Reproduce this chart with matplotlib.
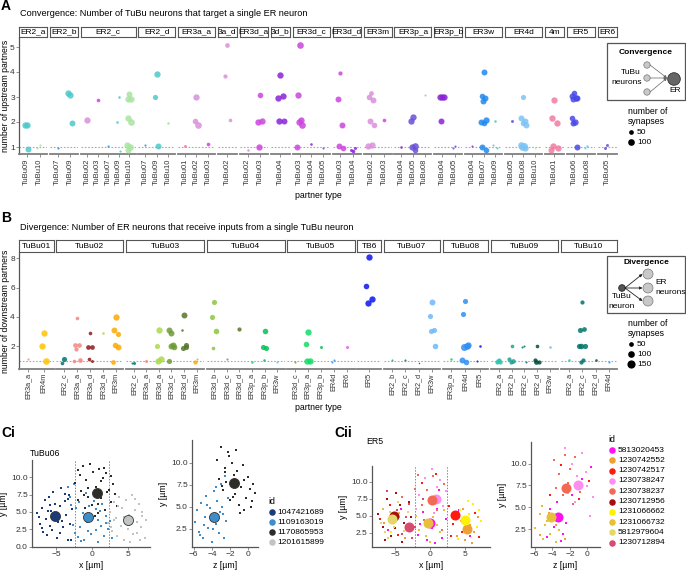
import matplotlib.pyplot as plt

plt.rcParams['font.family'] = ['Liberation Sans', 'DejaVu Sans']

### ---------------- data ----------------
# panel A : convergence (facet = ER type, partner = TuBu type)
conv_strips = ["ER2_a", "ER2_b", "ER2_c", "ER2_d", "ER3a_a", "ER3a_d", "ER3d_a", "ER3d_b", "ER3d_c",
               "ER3d_d", "ER3m", "ER3p_a", "ER3p_b", "ER3w", "ER4d", "ER4m", "ER5", "ER6"]
conv_strip_text = ["ER2_a", "ER2_b", "ER2_c", "ER2_d", "ER3a_a", "3a_d", "ER3d_a", "3d_b", "ER3d_c",
                   "ER3d_d", "ER3m", "ER3p_a", "ER3p_b", "ER3w", "ER4d", "4m", "ER5", "ER6"]
conv_partners = [["TuBu09", "TuBu10"], ["TuBu07", "TuBu09"],
                 ["TuBu02", "TuBu03", "TuBu07", "TuBu09", "TuBu10"], ["TuBu07", "TuBu09", "TuBu10"],
                 ["TuBu01", "TuBu02", "TuBu03"], ["TuBu02"], ["TuBu02", "TuBu03"], ["TuBu04"],
                 ["TuBu03", "TuBu04", "TuBu05"], ["TuBu03", "TuBu04"], ["TuBu02", "TuBu03"],
                 ["TuBu04", "TuBu05", "TuBu08"], ["TuBu04", "TuBu05"], ["TuBu04", "TuBu07", "TuBu09"],
                 ["TuBu05", "TuBu08", "TuBu10"], ["TuBu01"], ["TuBu06", "TuBu08"], ["TuBu05"]]
# (partner, number of upstream partners, number of synapses)
conv_points = {
    "ER2_a": [("TuBu09", 1.87, 90), ("TuBu09", 1.87, 90), ("TuBu09", 0.93, 80),
              ("TuBu10", 1.1, 10), ("TuBu10", 0.95, 10)],
    "ER2_b": [("TuBu07", 0.95, 10), ("TuBu09", 3.1, 90), ("TuBu09", 3.15, 90), ("TuBu09", 1.97, 80)],
    "ER2_c": [("TuBu02", 2.1, 90), ("TuBu03", 2.88, 30), ("TuBu07", 1.05, 10),
              ("TuBu09", 3.0, 15), ("TuBu09", 2.02, 15), ("TuBu09", 0.85, 10),
              ("TuBu10", 3.12, 80), ("TuBu10", 2.93, 90), ("TuBu10", 2.93, 90), ("TuBu10", 2.15, 90),
              ("TuBu10", 2.0, 100), ("TuBu10", 1.1, 90), ("TuBu10", 1.0, 100), ("TuBu10", 0.9, 80)],
    "ER2_d": [("TuBu07", 1.08, 10), ("TuBu09", 3.92, 90), ("TuBu09", 3.02, 60), ("TuBu09", 1.05, 80),
              ("TuBu10", 1.97, 15)],
    "ER3a_a": [("TuBu01", 1.05, 20), ("TuBu02", 3.02, 90), ("TuBu02", 2.05, 70), ("TuBu02", 1.88, 100),
               ("TuBu03", 1.12, 30)],
    "ER3a_d": [("TuBu02", 5.1, 50), ("TuBu02", 3.85, 40), ("TuBu02", 2.1, 30)],
    "ER3d_a": [("TuBu02", 0.9, 15), ("TuBu03", 3.1, 70), ("TuBu03", 2.0, 90), ("TuBu03", 2.05, 90),
               ("TuBu03", 1.0, 90)],
    "ER3d_b": [("TuBu04", 3.87, 90), ("TuBu04", 2.95, 90), ("TuBu04", 3.03, 90), ("TuBu04", 2.03, 90),
               ("TuBu04", 2.05, 80)],
    "ER3d_c": [("TuBu03", 5.1, 100), ("TuBu03", 3.07, 90), ("TuBu03", 2.1, 90), ("TuBu03", 2.0, 90),
               ("TuBu03", 1.9, 100), ("TuBu03", 1.0, 80), ("TuBu04", 1.12, 15), ("TuBu05", 0.98, 10)],
    "ER3d_d": [("TuBu03", 3.95, 40), ("TuBu03", 2.93, 80), ("TuBu03", 1.9, 80), ("TuBu03", 1.03, 80),
               ("TuBu03", 0.95, 70), ("TuBu04", 0.85, 30), ("TuBu04", 0.9, 20), ("TuBu04", 0.95, 20)],
    "ER3m": [("TuBu02", 3.15, 50), ("TuBu02", 3.0, 70), ("TuBu02", 2.9, 80), ("TuBu02", 2.05, 80),
             ("TuBu02", 1.9, 70), ("TuBu02", 1.05, 90), ("TuBu02", 1.1, 90), ("TuBu03", 2.1, 30)],
    "ER3p_a": [("TuBu04", 1.0, 15), ("TuBu05", 2.2, 90), ("TuBu05", 2.05, 90), ("TuBu05", 1.05, 100),
               ("TuBu05", 1.0, 90), ("TuBu05", 0.9, 70), ("TuBu08", 3.1, 10)],
    "ER3p_b": [("TuBu04", 3.0, 90), ("TuBu04", 3.0, 90), ("TuBu04", 3.0, 90), ("TuBu04", 2.05, 80),
               ("TuBu05", 1.05, 10), ("TuBu05", 0.95, 10)],
    "ER3w": [("TuBu04", 1.03, 10), ("TuBu07", 4.0, 80), ("TuBu07", 3.05, 70), ("TuBu07", 2.95, 80),
             ("TuBu07", 2.85, 80), ("TuBu07", 2.1, 90), ("TuBu07", 2.0, 80), ("TuBu07", 1.95, 70),
             ("TuBu07", 1.0, 80), ("TuBu07", 0.9, 70), ("TuBu09", 2.03, 15), ("TuBu09", 1.1, 10),
             ("TuBu09", 0.95, 10)],
    "ER4d": [("TuBu05", 2.05, 20), ("TuBu08", 3.0, 60), ("TuBu08", 2.15, 80), ("TuBu08", 2.05, 80),
             ("TuBu08", 1.95, 70), ("TuBu08", 1.9, 80), ("TuBu08", 1.1, 100), ("TuBu08", 1.05, 110),
             ("TuBu08", 1.0, 100), ("TuBu08", 0.95, 90), ("TuBu10", 0.95, 5)],
    "ER4m": [("TuBu01", 2.9, 90), ("TuBu01", 2.15, 90), ("TuBu01", 1.95, 90), ("TuBu01", 1.05, 90),
             ("TuBu01", 0.98, 90), ("TuBu01", 0.9, 80)],
    "ER5": [("TuBu06", 3.15, 70), ("TuBu06", 3.05, 80), ("TuBu06", 2.95, 90), ("TuBu06", 2.93, 80),
            ("TuBu06", 2.95, 80), ("TuBu06", 2.15, 70), ("TuBu06", 2.0, 90), ("TuBu06", 1.95, 80),
            ("TuBu06", 1.02, 80), ("TuBu08", 1.05, 15), ("TuBu08", 0.95, 10)],
    "ER6": [("TuBu05", 1.1, 20), ("TuBu05", 0.95, 20)],
}

# panel B : divergence (facet = TuBu type, partner = ER type)
div_strips = ["TuBu01", "TuBu02", "TuBu03", "TuBu04", "TuBu05", "TB6", "TuBu07", "TuBu08", "TuBu09", "TuBu10"]
div_partners = [["ER3a_a", "ER4m"], ["ER2_c", "ER3a_a", "ER3a_d", "ER3d_a", "ER3m"],
                ["ER2_c", "ER3a_a", "ER3d_a", "ER3d_c", "ER3d_d", "ER3m"],
                ["ER3d_b", "ER3d_c", "ER3d_d", "ER3p_a", "ER3p_b", "ER3w"],
                ["ER3d_c", "ER3p_a", "ER3p_b", "ER4d", "ER6"], ["ER5"],
                ["ER2_b", "ER2_c", "ER2_d", "ER3w"], ["ER3p_a", "ER4d", "ER5"],
                ["ER2_a", "ER2_b", "ER2_c", "ER2_d", "ER3w"], ["ER2_a", "ER2_c", "ER2_d", "ER4d"]]
div_points = {
    "TuBu01": [("ER3a_a", 1.1, 10), ("ER4m", 2.93, 90), ("ER4m", 2.0, 90), ("ER4m", 1.02, 100)],
    "TuBu02": [("ER2_c", 1.15, 60), ("ER2_c", 0.88, 30), ("ER3a_a", 3.9, 30), ("ER3a_a", 2.12, 50),
               ("ER3a_a", 2.1, 50), ("ER3a_a", 1.82, 40), ("ER3a_a", 1.05, 50), ("ER3a_a", 1.0, 30),
               ("ER3a_d", 2.9, 30), ("ER3a_d", 1.97, 50), ("ER3a_d", 1.92, 50), ("ER3a_d", 1.1, 30),
               ("ER3a_d", 1.0, 20), ("ER3d_a", 2.93, 15), ("ER3m", 4.0, 90), ("ER3m", 3.12, 80),
               ("ER3m", 2.86, 60), ("ER3m", 2.12, 70), ("ER3m", 1.93, 80), ("ER3m", 0.95, 50)],
    "TuBu03": [("ER2_c", 0.88, 20), ("ER2_c", 0.87, 10), ("ER3a_a", 1.0, 20), ("ER3d_a", 3.1, 90),
               ("ER3d_a", 2.05, 60), ("ER3d_a", 1.15, 90), ("ER3d_a", 1.02, 90), ("ER3d_c", 2.93, 80),
               ("ER3d_c", 3.1, 80), ("ER3d_c", 2.07, 80), ("ER3d_c", 2.0, 80), ("ER3d_c", 1.95, 70),
               ("ER3d_c", 0.98, 60), ("ER3d_d", 4.1, 80), ("ER3d_d", 3.1, 15), ("ER3d_d", 2.1, 60),
               ("ER3d_d", 1.9, 60), ("ER3d_d", 1.95, 60), ("ER3m", 1.1, 10), ("ER3m", 0.95, 40)],
    "TuBu04": [("ER3d_b", 5.0, 60), ("ER3d_b", 4.0, 60), ("ER3d_b", 3.03, 70), ("ER3d_b", 1.9, 30),
               ("ER3d_c", 1.15, 10), ("ER3d_d", 3.15, 40), ("ER3p_a", 0.92, 15), ("ER3p_b", 3.07, 70),
               ("ER3p_b", 1.97, 60), ("ER3p_b", 1.87, 60), ("ER3p_b", 1.03, 15), ("ER3w", 0.95, 10)],
    "TuBu05": [("ER3d_c", 0.9, 10), ("ER3p_a", 3.0, 90), ("ER3p_a", 2.15, 70), ("ER3p_a", 1.0, 90),
               ("ER3p_a", 0.98, 90), ("ER3p_b", 1.98, 20), ("ER4d", 1.05, 10), ("ER4d", 0.92, 10),
               ("ER6", 1.95, 20)],
    "TB6": [("ER5", 8.1, 90), ("ER5", 6.1, 70), ("ER5", 5.2, 90), ("ER5", 4.95, 90)],
    "TuBu07": [("ER2_b", 1.05, 10), ("ER2_c", 1.03, 10), ("ER2_d", 0.88, 5), ("ER3w", 5.0, 80),
               ("ER3w", 4.07, 60), ("ER3w", 3.1, 60), ("ER3w", 3.05, 60), ("ER3w", 2.0, 70)],
    "TuBu08": [("ER3p_a", 1.1, 15), ("ER4d", 5.1, 60), ("ER4d", 4.2, 60), ("ER4d", 2.05, 100),
               ("ER4d", 1.95, 110), ("ER4d", 2.1, 90), ("ER4d", 1.03, 80), ("ER4d", 0.9, 70),
               ("ER5", 2.0, 15), ("ER5", 1.0, 10)],
    "TuBu09": [("ER2_a", 1.05, 40), ("ER2_a", 0.92, 40), ("ER2_a", 0.95, 40), ("ER2_a", 1.0, 50),
               ("ER2_b", 2.03, 30), ("ER2_b", 1.1, 40), ("ER2_b", 1.0, 50), ("ER2_b", 0.95, 40),
               ("ER2_c", 2.0, 10), ("ER2_c", 1.93, 10), ("ER2_c", 0.95, 10), ("ER2_d", 2.03, 30),
               ("ER2_d", 1.08, 40), ("ER2_d", 0.93, 40), ("ER2_d", 0.9, 50), ("ER3w", 1.95, 15)],
    "TuBu10": [("ER2_a", 1.05, 15), ("ER2_c", 5.0, 40), ("ER2_c", 3.1, 60), ("ER2_c", 3.15, 50),
               ("ER2_c", 2.05, 70), ("ER2_c", 2.02, 60), ("ER2_c", 2.05, 60), ("ER2_c", 1.05, 40),
               ("ER2_c", 0.95, 40), ("ER2_d", 1.03, 15), ("ER4d", 0.95, 10)],
}

partner_colors = {
    "TuBu01": "#F27BA0", "TuBu02": "#D98FDB", "TuBu03": "#CC44DD", "TuBu04": "#8A22D8",
    "TuBu05": "#6A4FD8", "TuBu06": "#4848E8", "TuBu07": "#1E88F0", "TuBu08": "#7CC4F4",
    "TuBu09": "#4CC8CC", "TuBu10": "#A8E4A0",
    "ER2_a": "#2EC4B0", "ER2_b": "#1FA08E", "ER2_c": "#00756B", "ER2_d": "#004A3A",
    "ER3a_a": "#F4867F", "ER3a_d": "#8E1B1B", "ER3d_a": "#A9DA4A", "ER3d_b": "#8CC63F",
    "ER3d_c": "#6D9A35", "ER3d_d": "#56762A", "ER3m": "#FFAA00", "ER3p_a": "#10DD66",
    "ER3p_b": "#00C255", "ER3w": "#6EB8F8", "ER4d": "#2F8FF5", "ER4m": "#FFC400",
    "ER5": "#0A14F0", "ER6": "#E055F0",
}

# panel Ci : TuBu06 neurons
ci_ids = ["1047421689", "1109163019", "1170865953", "1201615899"]
ci_colors = ["#1B3A78", "#3E8CC8", "#2C2C28", "#C0C4C4"]
ci_xy_x = [
    [-7.6, -7.2, -7.0, -6.8, -6.5, -6.4, -6.2, -6.0, -5.9, -5.7, -5.5, -5.4, -5.1, -4.9, -4.7, -4.5, -4.3, -4.0,
     -3.8, -3.6, -3.4, -3.2, -3.0, -2.8, -6.9, -6.1, -5.3, -4.4, -3.7, -2.9, -7.4, -5.8, -4.8, -4.1, -3.3],
    [-3.4, -3.0, -2.7, -2.5, -2.2, -2.0, -1.8, -1.6, -1.3, -1.1, -0.9, -0.7, -0.4, -0.2, 0.1, 0.3, 0.6, 0.8,
     1.1, 1.3, 1.6, 1.9, 2.2, 2.5, 2.8, -2.9, -1.5, -0.6, 0.5, 1.4, 2.0, -2.3, -1.0, 0.9],
    [-2.3, -2.0, -1.7, -1.5, -1.2, -1.0, -0.8, -0.5, -0.3, 0.0, 0.2, 0.5, 0.8, 1.0, 1.3, 1.5, 1.8, 2.0,
     2.3, 2.6, 2.9, 3.2, 3.4, -1.9, -0.6, 0.4, 1.2, 2.1, -1.1, 0.9, 1.7, 2.7],
    [2.2, 2.5, 2.8, 3.0, 3.3, 3.5, 3.8, 4.0, 4.2, 4.5, 4.7, 5.0, 5.2, 5.5, 5.7, 6.0, 6.2, 6.5,
     6.8, 7.0, 7.3, 7.5, 2.6, 3.6, 4.4, 5.3, 6.3, 6.9, 4.8, 5.9, 3.1, 6.6],
]
ci_xy_y = [
    [4.9, 3.2, 5.6, 2.1, 6.8, 4.0, 1.7, 7.2, 3.0, 5.2, 2.4, 7.9, 6.1, 1.3, 3.6, 5.8, 8.4, 2.8,
     6.6, 4.5, 1.0, 7.4, 3.3, 5.5, 2.7, 5.1, 3.9, 2.0, 7.6, 0.9, 4.3, 6.0, 4.8, 3.7, 6.9],
    [8.6, 7.2, 3.1, 9.0, 5.6, 1.4, 6.4, 2.8, 4.9, 0.9, 7.8, 3.5, 5.9, 1.8, 4.2, 6.6, 2.4, 0.7,
     5.1, 3.0, 1.5, 4.4, 2.6, 3.7, 1.2, 6.0, 0.8, 2.2, 5.5, 6.2, 3.4, 2.0, 4.6, 3.9],
    [9.2, 6.8, 10.4, 8.0, 11.6, 5.6, 9.6, 7.2, 11.9, 6.0, 10.8, 8.6, 4.8, 11.2, 7.0, 9.9, 5.3, 10.6,
     8.2, 6.5, 9.0, 7.6, 5.8, 11.0, 8.4, 4.4, 9.4, 7.9, 7.4, 6.2, 11.3, 10.2],
    [3.4, 5.0, 2.2, 6.5, 4.1, 1.5, 7.2, 3.0, 5.6, 0.9, 6.8, 2.5, 4.6, 7.4, 1.8, 5.3, 3.6, 6.1,
     2.9, 4.4, 1.2, 3.8, 2.9, 5.9, 4.3, 0.6, 2.0, 5.0, 3.2, 6.9, 3.9, 1.0],
]
ci_xy_center = [(-5.2, 4.4), (-0.5, 4.3), (0.7, 7.8), (5.0, 3.8)]
ci_zy_z = [[],
           [-5.9, -5.6, -5.4, -5.2, -5.0, -4.8, -4.6, -4.4, -4.2, -4.0, -3.8, -3.6, -3.4, -3.2, -3.0, -2.8,
            -2.6, -2.4, -2.2, -5.3, -4.5, -3.9, -3.1, -2.7, -4.9, -3.5, -4.1, -2.9],
           [-3.4, -3.2, -3.0, -2.8, -2.6, -2.4, -2.2, -2.0, -1.8, -1.6, -1.4, -1.2, -1.0, -0.8, -0.6, -0.4,
            -0.2, 0.0, 0.2, 0.4, 0.6, 0.8, -2.9, -2.1, -1.3, -0.5, 0.3, -1.7, -0.9, -2.5],
           []]
ci_zy_y = [[],
           [3.2, 4.6, 2.1, 5.4, 1.4, 3.8, 6.2, 2.6, 4.8, 1.0, 6.8, 3.0, 5.6, 2.0, 7.6, 4.2, 8.5, 3.4, 6.0,
            1.8, 5.2, 2.4, 4.4, 1.4, 2.9, 7.2, 3.5, 5.0],
           [10.3, 8.2, 11.8, 6.9, 9.4, 7.8, 11.2, 5.8, 10.0, 8.6, 6.4, 9.1, 5.2, 7.2, 9.8, 4.6, 6.0, 8.4,
            7.0, 5.6, 7.6, 6.6, 7.4, 10.8, 11.5, 8.0, 5.0, 6.1, 4.3, 9.0],
           []]
ci_zy_center = [None, (-3.8, 3.8), (-1.5, 7.7), None]

# panel Cii : ER5 neurons
cii_ids = ["5813020453", "1230742552", "1230742517", "1230738247", "1230738237",
           "1230712956", "1231066662", "1231066732", "5812979604", "1230712894"]
cii_colors = ["#FF10F0", "#EFA035", "#FF1A10", "#FF8CF2", "#F26A55",
              "#A50F0F", "#FFF200", "#E8BE3A", "#E2D86A", "#D84A70"]
cii_xy_x = [
    [-1.8, -1.0, -0.4, 0.3, 0.9, 1.6, 2.2, -1.4, 0.6, 1.2, -6.0, -4.2, 5.6, 4.1],
    [3.8, 4.4, 5.0, 5.6, 6.2, 6.8, 4.7, 5.9, -3.6, -6.6],
    [2.6, 3.2, 3.9, 4.5, 6.4, 7.0, -5.8, -4.6, -1.2, 0.8, -7.2, 2.9],
    [-1.6, -0.8, 0.2, 1.0, 1.8, 2.3, -0.2, 1.4, -2.0, 0.5],
    [-2.2, -1.2, -0.5, 0.4, 1.2, 2.0, -1.8, 0.9, -0.9, 1.7, -4.0],
    [-7.4, -6.8, -6.2, -5.6, -4.9, -4.3, -3.7, -3.0, -6.5, -5.0, -4.0, -2.7, 4.8],
    [3.4, 4.2, 4.9, 5.5, 6.1, 6.6, 7.2, 3.9, 5.3, 6.9, -5.6],
    [-1.6, -0.6, 0.4, 1.4, 2.0, -2.0, 0.0, 1.0, -6.8, -4.4],
    [-7.0, -6.4, -5.8, -5.2, -4.6, -3.8, -3.2, -6.0, -4.4, -2.8],
    [-4.0, -3.4, -2.6, -3.0, -4.8, -2.2, -6.2, -1.0],
]
cii_xy_y = [
    [2.2, 5.6, 1.5, 3.2, 6.0, 1.8, 4.6, 3.8, 1.0, 8.8, 3.0, 6.0, 2.0, 5.8],
    [2.0, 4.2, 1.4, 3.6, 2.6, 4.8, 6.0, 1.0, 1.8, 4.0],
    [6.4, 3.8, 5.6, 2.6, 5.4, 1.9, 6.6, 2.2, 9.8, 11.2, 4.6, 2.0],
    [8.0, 10.6, 11.8, 9.2, 6.4, 8.6, 7.0, 10.2, 6.0, 5.4],
    [9.0, 6.6, 8.8, 10.8, 7.8, 9.6, 11.0, 5.8, 4.4, 3.0, 7.8],
    [5.2, 3.4, 7.4, 2.0, 8.4, 6.6, 4.0, 7.0, 1.4, 3.2, 1.2, 4.8, 3.0],
    [4.6, 5.8, 3.0, 5.2, 6.8, 3.4, 4.2, 1.6, 7.2, 5.8, 2.6],
    [3.0, 2.0, 4.8, 2.6, 5.8, 5.0, 1.2, 3.6, 6.0, 5.4],
    [4.0, 2.6, 5.6, 3.4, 7.0, 2.8, 5.6, 1.8, 4.8, 3.6],
    [2.4, 4.8, 1.8, 6.8, 5.8, 3.4, 8.6, 7.4],
]
cii_xy_center = [(0.0, 4.0), (5.2, 3.1), (3.5, 5.1), (0.8, 7.5), (0.2, 7.3),
                 (-5.2, 5.0), (5.0, 4.4), (-0.3, 4.0), (-5.5, 4.6), (-3.0, 3.4)]
cii_zy_z = [[-4.6, -3.8, -3.0, -2.4, -4.2, -3.4, -2.8, -1.8, -0.6, 0.4],
            [-5.4, -4.4, -3.6, -2.6],
            [-3.0, -1.0, -4.2, 0.2],
            [-2.6, -1.8, -1.2, -0.6, 0.0, 0.6, -2.2, -0.2, 0.3, -1.4],
            [-3.8, -3.2, -2.6, -2.0, -1.4, -0.8, -2.8, -1.6, -3.6, -2.2],
            [], [],
            [-5.9, -5.4, -5.0, -4.6, -4.2, -3.6, -5.2, -4.8, -3.2],
            [], []]
cii_zy_y = [[1.6, 2.8, 1.2, 3.2, 4.8, 5.6, 2.0, 6.4, 8.2, 9.6],
            [1.8, 4.4, 3.0, 1.4],
            [9.8, 6.0, 6.4, 8.0],
            [11.8, 10.0, 8.6, 11.2, 7.4, 6.2, 6.6, 9.0, 4.0, 5.6],
            [10.4, 8.8, 11.0, 9.4, 10.8, 6.8, 6.4, 5.4, 7.2, 7.8],
            [], [],
            [2.6, 4.2, 1.4, 3.4, 2.0, 1.0, 5.2, 3.0, 2.4],
            [], []]
cii_zy_center = [(-3.3, 3.9), None, None, (-1.1, 7.6), (-2.4, 7.2), None, None, (-4.1, 3.9), None, None]

syn_legend = [50, 100, 150]

### ---------------- figure ----------------
W, H = 686, 571
fig = plt.figure(figsize=(W / 100, H / 100), dpi=100)
GREY = "#7f7f7f"


def box(x0, y0, x1, y1):
    return [x0 / W, 1 - y1 / H, (x1 - x0) / W, (y1 - y0) / H]


def syn_size(n):
    return n * 0.23


jit = [0.0, -0.16, 0.14, -0.07, 0.2, -0.22, 0.07, -0.12, 0.17, -0.03, 0.1]


def facet_row(strips, labels, partners, points, top, bottom, strip_top, ylim, yticks, tick_fs):
    x0, x1, gap = 19, 617, 2.7
    units = [len(p) + 1.2 for p in partners]
    scale = (x1 - x0 - gap * (len(units) - 1)) / sum(units)
    x = x0
    for i, key in enumerate(strips):
        w = units[i] * scale
        ax = fig.add_axes(box(x, top, x + w, bottom))
        seen = {}
        for partner, val, syn in points[key]:
            k = seen.get(partner, 0)
            seen[partner] = k + 1
            ax.scatter(partners[i].index(partner) + jit[k % len(jit)], val, s=syn_size(syn),
                       color=partner_colors[partner], alpha=0.85, linewidths=0, zorder=3)
        ax.axhline(1, color="#aaaaaa", ls=(0, (1.5, 1.5)), lw=0.8, zorder=1)
        ax.set_xlim(-0.6, len(partners[i]) - 0.4)
        ax.set_ylim(*ylim)
        ax.set_xticks(range(len(partners[i])))
        ax.set_xticklabels(partners[i], rotation=90, fontsize=tick_fs, color="#333333")
        ax.tick_params(axis="x", length=2, width=0.6, color=GREY, pad=1)
        for s in ["top", "right"]:
            ax.spines[s].set_visible(False)
        ax.spines["bottom"].set_color(GREY)
        ax.spines["bottom"].set_linewidth(1.3)
        if i == 0:
            ax.set_yticks(yticks)
            ax.tick_params(axis="y", labelsize=6, length=2, width=0.6, color=GREY, pad=1,
                           labelcolor="#333333")
            ax.spines["left"].set_color("#555555")
            ax.spines["left"].set_linewidth(0.9)
        else:
            ax.spines["left"].set_visible(False)
            ax.set_yticks([])
        ax.patch.set_alpha(0)
        # strip
        sax = fig.add_axes(box(x, strip_top, x + w, top - 1.5))
        sax.set_xticks([])
        sax.set_yticks([])
        for s in sax.spines.values():
            s.set_color("#555555")
            s.set_linewidth(0.8)
        sax.text(0.5, 0.45, labels[i], ha="center", va="center", fontsize=6, transform=sax.transAxes)
        x += w + gap


# panel A
facet_row(conv_strips, conv_strip_text, conv_partners, conv_points, 38, 154, 27, (0.72, 5.36),
          [1, 2, 3, 4, 5], 5.5)
# panel B
facet_row(div_strips, div_strips, div_partners, div_points, 253, 369, 240, (0.45, 8.36),
          [2, 4, 6, 8], 5.2)


def cloud_axes(rect, xs, ys, centers, colors, xlim, ylim, xticks, yticks, xlabel, edge):
    ax = fig.add_axes(box(*rect))
    for i in range(len(colors)):
        if xs[i]:
            ax.scatter(xs[i], ys[i], s=3.4, marker="s", color=colors[i], linewidths=0, zorder=2)
    for i in range(len(colors)):
        if centers[i] is not None:
            ax.scatter(*centers[i], s=52, color=colors[i], edgecolors=edge if edge else colors[i],
                       linewidths=0.6 if edge else 0, zorder=4)
    ax.set_xlim(*xlim)
    ax.set_ylim(*ylim)
    ax.set_xticks(xticks)
    ax.set_yticks(yticks)
    ax.set_yticklabels([f"{v:.1f}" for v in yticks])
    ax.set_xticklabels([f"\u2212{-v:g}" if v < 0 else f"{v:g}" for v in xticks])
    ax.tick_params(labelsize=6, length=2, width=0.6, color=GREY, pad=1, labelcolor="#333333")
    for s in ["top", "right"]:
        ax.spines[s].set_visible(False)
    for s in ["left", "bottom"]:
        ax.spines[s].set_color("#555555")
        ax.spines[s].set_linewidth(0.9)
    ax.set_xlabel(xlabel, fontsize=6.3, labelpad=2)
    ax.set_ylabel("y [µm]", fontsize=6.3, labelpad=2)
    return ax


# Ci
ax = cloud_axes((32, 460, 150, 547), ci_xy_x, ci_xy_y, ci_xy_center, ci_colors, (-8.33, 8.05), (-0.05, 12.5),
                [-5, 0, 5], [0.0, 2.5, 5.0, 7.5, 10.0], "x [µm]", "#333333")
for v in (-2.4, 2.4):
    ax.axvline(v, color="#888888", ls=(0, (1.5, 1.5)), lw=0.7, zorder=1)
cloud_axes((192, 440, 258, 547), ci_zy_z, ci_zy_y, ci_zy_center, ci_colors, (-6.2, 1.1), (0.4, 12.6),
           [-6, -4, -2, 0], [2.5, 5.0, 7.5, 10.0], "z [µm]", "#333333")
# Cii
ax = cloud_axes((372, 466, 490, 547), cii_xy_x, cii_xy_y, cii_xy_center, cii_colors, (-8.3, 8.5), (0.44, 12.3),
                [-5, 0, 5], [2.5, 5.0, 7.5, 10.0], "x [µm]", None)
for v in (-2.2, 2.4):
    ax.axvline(v, color="#888888", ls=(0, (1.5, 1.5)), lw=0.7, zorder=1)
cloud_axes((531, 442, 600, 547), cii_zy_z, cii_zy_y, cii_zy_center, cii_colors, (-6.4, 1.42), (0.47, 12.46),
           [-6, -4, -2, 0], [2.5, 5.0, 7.5, 10.0], "z [µm]", None)

### ---------------- overlay: titles, legends, diagrams ----------------
ov = fig.add_axes([0, 0, 1, 1])
ov.set_xlim(0, W)
ov.set_ylim(H, 0)
ov.axis("off")

ov.text(1, 6, "A", fontsize=10, fontweight="bold", va="center")
ov.text(20, 14, "Convergence: Number of TuBu neurons that target a single ER neuron", fontsize=6.6, va="center")
ov.text(6, 96, "number of upstream partners", fontsize=6.2, rotation=90, ha="center", va="center")
ov.text(318, 195, "partner type", fontsize=6.3, ha="center", va="center")
ov.text(1, 218, "B", fontsize=10, fontweight="bold", va="center")
ov.text(20, 227, "Divergence: Number of ER neurons that receive inputs from a single TuBu neuron",
        fontsize=6.6, va="center")
ov.text(6, 311, "number of downstream partners", fontsize=6.2, rotation=90, ha="center", va="center")
ov.text(318, 407, "partner type", fontsize=6.3, ha="center", va="center")
ov.text(1, 433, "Ci", fontsize=10, fontweight="bold", va="center")
ov.text(30, 453, "TuBu06", fontsize=6.3, va="center")
ov.text(334, 433, "Cii", fontsize=10, fontweight="bold", va="center")
ov.text(366, 442, "ER5", fontsize=6.3, va="center")

# convergence diagram
ov.add_patch(plt.Rectangle((607, 43), 78, 57, fill=False, ec="#555555", lw=0.9))
ov.text(646, 53, "Convergence", fontsize=6, fontweight="bold", ha="center", va="center")
for yy in (65, 78, 92):
    ov.add_patch(plt.Circle((647, yy), 3.2, fc="#c8c8c8", ec="#777777", lw=0.5))
    ov.annotate("", xy=(667, 78), xytext=(650, yy),
                arrowprops=dict(arrowstyle="-|>", color="#666666", lw=0.5, mutation_scale=4,
                                shrinkA=0, shrinkB=0))
ov.add_patch(plt.Circle((674, 79), 6.3, fc="#666666", ec="#333333", lw=0.6))
ov.text(641, 73, "TuBu", fontsize=6, ha="right", va="center")
ov.text(642, 83, "neurons", fontsize=6, ha="right", va="center")
ov.text(675, 91, "ER", fontsize=6, ha="center", va="center")

ov.text(628, 111, "number of", fontsize=6.3, va="center")
ov.text(628, 122, "synapses", fontsize=6.3, va="center")
for yy, n in zip((132, 142), syn_legend[:2]):
    ov.scatter(631, yy, s=syn_size(n), color="black", linewidths=0)
    ov.text(637, yy, str(n), fontsize=6, va="center")

# divergence diagram
ov.add_patch(plt.Rectangle((607, 256), 78, 57, fill=False, ec="#555555", lw=0.9))
ov.text(646, 262, "Divergence", fontsize=6, fontweight="bold", ha="center", va="center")
for yy in (274, 288, 301):
    ov.add_patch(plt.Circle((648, yy), 5, fc="#c8c8c8", ec="#777777", lw=0.5))
    ov.annotate("", xy=(642.5, yy), xytext=(625, 288),
                arrowprops=dict(arrowstyle="-|>", color="#222222", lw=0.6, mutation_scale=4,
                                shrinkA=0, shrinkB=0))
ov.add_patch(plt.Circle((622, 288), 3.3, fc="#555555", ec="#222222", lw=0.6))
ov.text(655, 283, "ER", fontsize=6, va="center")
ov.text(655, 292, "neurons", fontsize=6, va="center")
ov.text(622, 297, "TuBu", fontsize=6, ha="center", va="center")
ov.text(622, 306, "neuron", fontsize=6, ha="center", va="center")

ov.text(628, 323, "number of", fontsize=6.3, va="center")
ov.text(628, 333, "synapses", fontsize=6.3, va="center")
for yy, n in zip((344, 354, 364), syn_legend):
    ov.scatter(631, yy, s=syn_size(n), color="black", linewidths=0)
    ov.text(637, yy, str(n), fontsize=6, va="center")

# id legends
ov.text(268, 501, "id", fontsize=6.3, va="center")
for k, (name, c) in enumerate(zip(ci_ids, ci_colors)):
    ov.scatter(272, 512 + 10 * k, s=22, color=c, linewidths=0)
    ov.text(277, 512 + 10 * k, name, fontsize=6, va="center")
ov.text(608, 439, "id", fontsize=6.3, va="center")
for k, (name, c) in enumerate(zip(cii_ids, cii_colors)):
    ov.scatter(612, 450 + 10.3 * k, s=22, color=c, linewidths=0)
    ov.text(618, 450 + 10.3 * k, name, fontsize=6, va="center")

fig.savefig("out.png", dpi=100)
